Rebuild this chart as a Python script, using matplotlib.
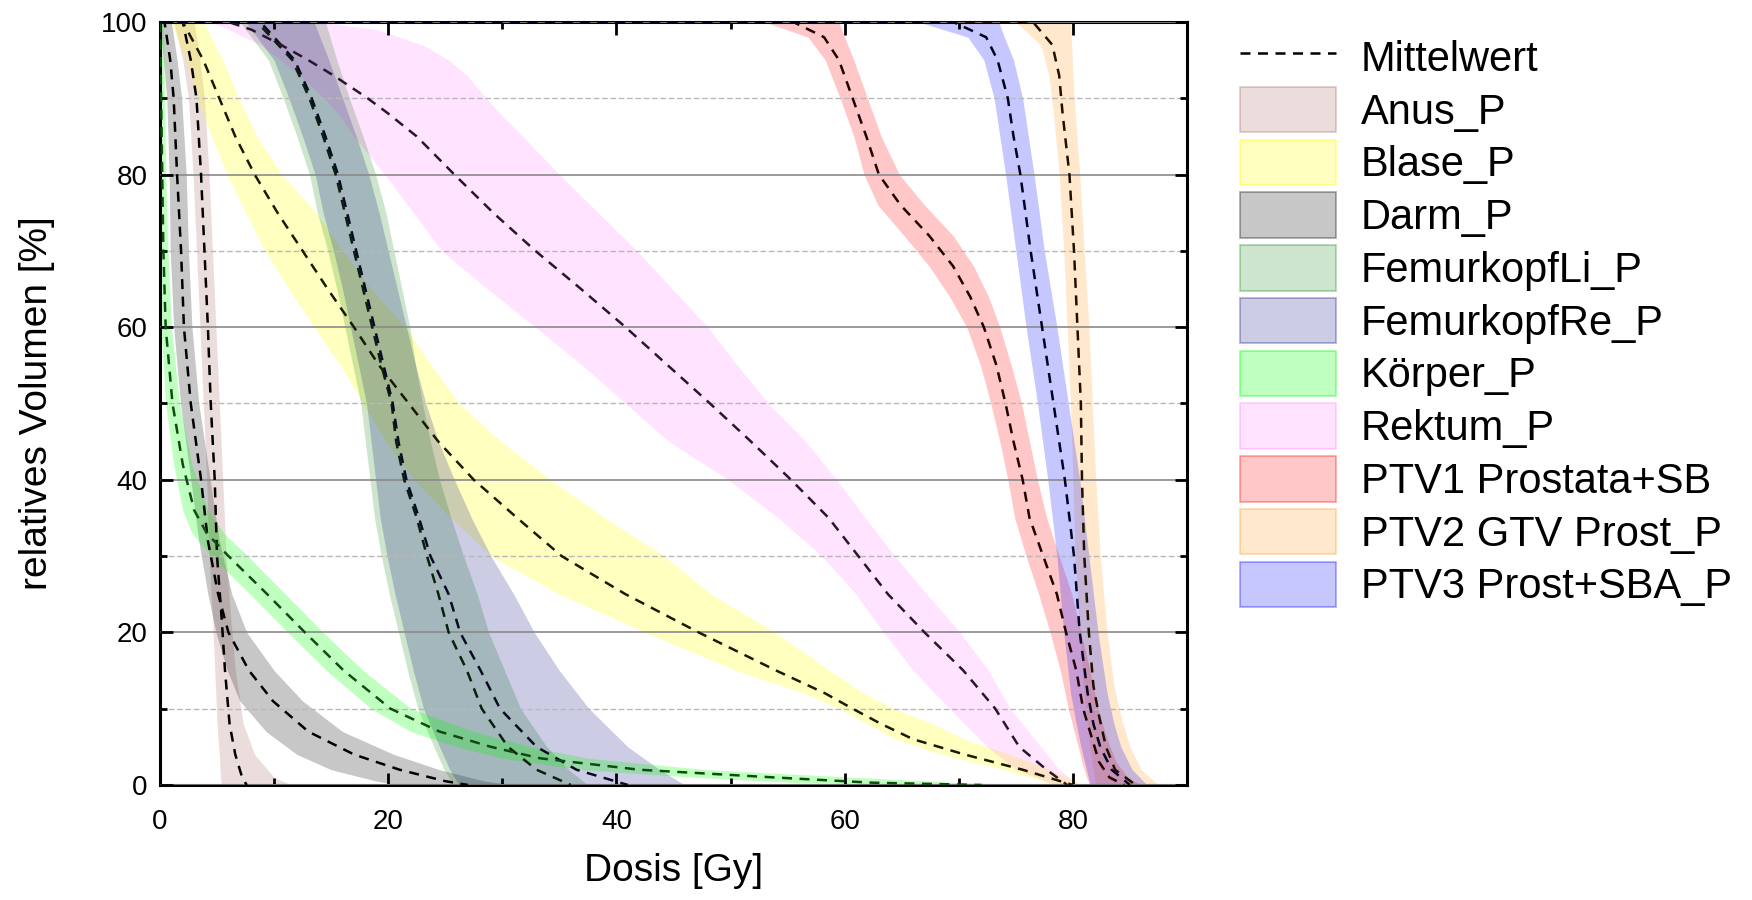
import numpy as np
import matplotlib
matplotlib.use("Agg")
import matplotlib.pyplot as plt
from matplotlib.lines import Line2D
from matplotlib.patches import Patch
from matplotlib.ticker import MultipleLocator

plt.rcParams['font.family'] = ['Liberation Sans', 'DejaVu Sans']

# volume levels [%] and dose [Gy] at that level: mean, lower edge, upper edge
anus_v = [100, 100, 95, 90, 80, 70, 60, 50, 40, 30, 22, 15, 8, 4, 1, 0]
anus_mean = [0, 2.0, 2.7, 3.2, 3.6, 3.9, 4.2, 4.45, 4.8, 5.0, 5.4, 5.7, 6.1, 6.6, 7.2, 7.6]
anus_lo = [0, 1.2, 2.0, 2.5, 2.9, 3.2, 3.5, 3.8, 4.1, 4.3, 4.6, 4.8, 5.0, 5.2, 5.3, 5.4]
anus_hi = [0, 3.0, 3.5, 3.9, 4.3, 4.6, 4.9, 5.2, 5.5, 5.8, 6.2, 6.6, 7.3, 8.3, 10.0, 11.5]

blase_v = [100, 100, 95, 90, 85, 80, 75, 70, 65, 60, 55, 50, 45, 40, 35, 30, 25, 20, 15, 12, 10, 8, 6, 4, 2, 0]
blase_mean = [0, 2.0, 3.8, 5.2, 6.6, 8.3, 10.3, 12.5, 14.7, 17.0, 19.2, 21.8, 24.4, 27.5, 31.3, 35.2, 40.8, 47.2, 54.0, 58.3, 60.7, 63.2, 66.0, 70.5, 75.6, 80.0]
blase_lo = [0, 1.0, 2.3, 3.3, 4.5, 5.9, 7.5, 9.2, 11.3, 13.5, 15.8, 17.8, 19.8, 22.3, 25.5, 29.0, 35.0, 42.5, 50.5, 56.5, 59.5, 62.0, 64.5, 68.5, 74.0, 78.5]
blase_hi = [0, 3.8, 5.5, 6.9, 8.5, 10.7, 13.7, 16.0, 18.5, 21.5, 23.8, 26.2, 29.9, 34.2, 39.0, 44.2, 48.3, 53.9, 58.7, 61.7, 64.3, 67.8, 70.5, 74.5, 78.0, 81.0]

darm_v = [100, 100, 95, 90, 80, 70, 60, 50, 40, 32, 25, 20, 15, 11, 7, 4, 2, 0.5, 0]
darm_mean = [0, 0.4, 0.9, 1.2, 1.5, 1.85, 2.1, 2.7, 3.6, 4.2, 5.1, 6.0, 7.8, 9.9, 13.0, 17.0, 21.0, 25.0, 27.0]
darm_lo = [0, 0.0, 0.3, 0.6, 0.8, 0.9, 1.2, 1.8, 2.7, 3.4, 4.2, 4.9, 5.9, 7.0, 9.3, 12.0, 15.0, 19.0, 21.0]
darm_hi = [0, 1.0, 1.5, 1.9, 2.3, 2.5, 2.8, 3.4, 4.4, 5.2, 6.3, 7.6, 10.0, 12.5, 16.0, 20.5, 24.5, 28.5, 31.0]

femur_v = [100, 100, 95, 90, 85, 80, 75, 70, 65, 60, 55, 50, 45, 40, 35, 30, 25, 20, 15, 10, 5, 2, 0]
femli_mean = [0, 8.5, 11.6, 13.1, 14.3, 15.4, 16.2, 17.0, 17.8, 18.6, 19.4, 20.3, 20.7, 21.4, 22.5, 23.4, 24.4, 25.3, 26.9, 28.2, 30.5, 33.0, 36.0]
femli_lo = [0, 7.0, 9.5, 10.8, 12.0, 13.1, 13.8, 14.7, 15.5, 16.2, 16.9, 17.6, 18.0, 18.4, 18.8, 19.4, 20.1, 20.9, 21.7, 22.6, 24.0, 24.9, 25.7]
femli_hi = [0, 14.5, 15.5, 16.6, 17.8, 18.9, 19.8, 20.5, 21.2, 21.9, 22.4, 23.0, 23.7, 24.5, 25.5, 26.6, 27.8, 28.8, 30.2, 31.6, 33.9, 35.8, 37.5]
femre_mean = [0, 8.8, 11.8, 13.3, 14.5, 15.6, 16.4, 17.2, 18.0, 18.8, 19.6, 20.4, 20.9, 21.6, 22.7, 23.7, 25.3, 26.3, 28.1, 29.8, 33.0, 36.5, 41.0]
femre_lo = [0, 7.5, 10.0, 11.3, 12.5, 13.6, 14.3, 15.2, 16.0, 16.7, 17.4, 18.1, 18.5, 18.9, 19.3, 19.9, 20.6, 21.4, 22.2, 23.1, 24.5, 25.4, 26.2]
femre_hi = [0, 13.5, 14.8, 16.0, 17.2, 18.3, 19.2, 20.0, 20.8, 21.6, 22.4, 23.3, 24.4, 25.8, 27.3, 29.0, 31.0, 32.8, 35.0, 37.6, 41.0, 43.8, 46.0]

koerper_v = [100, 90, 80, 70, 60, 50, 42, 36, 33, 30, 25, 20, 15, 10, 7, 5, 3.5, 2, 1, 0.3, 0]
koerper_mean = [0, 0.1, 0.2, 0.3, 0.5, 1.1, 2.0, 3.0, 4.1, 6.0, 9.4, 12.7, 16.1, 20.2, 24.5, 29.0, 33.3, 42.0, 53.7, 62.4, 72.0]
koerper_lo = [0, 0, 0, 0, 0.1, 0.5, 1.2, 2.0, 2.8, 4.5, 7.9, 11.2, 14.6, 18.5, 22.0, 26.0, 30.0, 37.0, 47.0, 56.0, 66.0]
koerper_hi = [0.3, 0.4, 0.5, 0.7, 1.0, 1.7, 2.8, 4.2, 5.6, 7.7, 11.0, 14.3, 17.8, 22.0, 27.5, 32.5, 37.5, 48.0, 61.0, 70.0, 78.0]

rektum_v = [100, 100, 99, 97, 95, 93, 90, 88, 85, 80, 75, 70, 65, 60, 55, 50, 45, 40, 35, 30, 25, 20, 15, 10, 5, 2, 0]
rektum_mean = [0, 6.0, 8.0, 10.6, 13.0, 15.2, 18.2, 20.0, 22.5, 25.8, 29.2, 32.9, 36.9, 40.8, 44.5, 48.2, 51.8, 55.3, 58.6, 61.2, 63.8, 67.0, 70.4, 73.2, 75.3, 77.7, 79.5]
rektum_lo = [0, 4.5, 6.0, 8.8, 10.6, 12.2, 14.4, 15.6, 17.0, 19.7, 22.2, 24.7, 28.7, 32.9, 37.0, 40.8, 44.6, 49.8, 54.2, 58.0, 61.0, 63.4, 66.0, 69.2, 72.5, 75.0, 78.5]
rektum_hi = [0, 14.0, 19.0, 23.0, 25.3, 26.9, 28.6, 29.8, 31.8, 35.0, 38.4, 41.8, 44.9, 48.0, 50.6, 53.3, 56.6, 59.3, 61.8, 64.4, 67.2, 70.1, 72.6, 74.5, 77.2, 78.8, 80.5]

ptv1_v = [100, 100, 98, 95, 90, 85, 80, 76, 72, 68, 64, 60, 55, 50, 45, 40, 35, 30, 25, 20, 15, 10, 6, 3, 1, 0]
ptv1_mean = [0, 55.5, 58.2, 59.5, 60.7, 61.9, 63.0, 64.9, 67.4, 69.5, 71.0, 72.2, 73.3, 74.1, 74.8, 75.6, 76.2, 77.4, 78.6, 79.4, 80.3, 80.9, 81.7, 82.3, 83.2, 84.5]
ptv1_lo = [0, 53.0, 56.8, 58.3, 59.6, 60.8, 61.7, 62.9, 65.2, 67.4, 69.2, 70.7, 71.9, 72.8, 73.6, 74.3, 74.9, 75.9, 77.0, 78.0, 78.9, 79.6, 80.3, 80.8, 81.2, 81.5]
ptv1_hi = [0, 59.5, 60.0, 60.8, 62.0, 63.2, 64.8, 67.0, 69.5, 71.3, 72.6, 73.6, 74.6, 75.5, 76.2, 76.9, 77.7, 78.8, 79.9, 80.7, 81.5, 82.2, 83.0, 83.8, 84.8, 86.0]

ptv2_v = [100, 100, 97, 93, 88, 80, 70, 60, 50, 40, 30, 20, 13, 9, 5, 2, 0]
ptv2_mean = [0, 76.5, 78.2, 78.8, 79.1, 79.7, 80.1, 80.4, 80.7, 80.8, 81.0, 81.4, 81.8, 82.3, 82.9, 83.7, 85.5]
ptv2_lo = [0, 75.0, 77.2, 77.9, 78.3, 78.8, 79.2, 79.5, 79.8, 80.0, 80.2, 80.6, 80.9, 81.2, 81.5, 81.8, 82.0]
ptv2_hi = [0, 79.8, 79.9, 80.0, 80.2, 80.6, 81.0, 81.4, 81.7, 82.0, 82.4, 83.0, 83.6, 84.2, 85.0, 86.0, 87.5]

ptv3_v = [100, 100, 98, 95, 90, 85, 80, 70, 60, 50, 40, 30, 20, 12, 8, 5, 2, 0]
ptv3_mean = [0, 69.5, 72.4, 73.4, 74.3, 74.8, 75.4, 76.3, 77.3, 78.3, 79.3, 80.1, 80.6, 81.3, 81.8, 82.4, 83.4, 85.0]
ptv3_lo = [0, 66.5, 70.8, 72.2, 73.1, 73.6, 74.1, 75.0, 75.9, 76.9, 77.8, 78.6, 79.2, 79.8, 80.3, 80.7, 81.2, 81.5]
ptv3_hi = [0, 73.5, 74.0, 74.8, 75.6, 76.1, 76.6, 77.5, 78.6, 79.6, 80.6, 81.4, 82.2, 83.0, 83.6, 84.2, 85.2, 86.5]

# name, volumes, lower, upper, band colour, band alpha
bands = [
    ("Anus_P", anus_v, anus_lo, anus_hi, (0.63, 0.35, 0.35), 0.2),
    ("Blase_P", blase_v, blase_lo, blase_hi, (1.0, 1.0, 0.0), 0.25),
    ("Darm_P", darm_v, darm_lo, darm_hi, (0.0, 0.0, 0.0), 0.22),
    ("FemurkopfLi_P", femur_v, femli_lo, femli_hi, (0.0, 0.5, 0.0), 0.2),
    ("FemurkopfRe_P", femur_v, femre_lo, femre_hi, (0.0, 0.0, 0.5), 0.2),
    ("Körper_P", koerper_v, koerper_lo, koerper_hi, (0.0, 1.0, 0.0), 0.25),
    ("Rektum_P", rektum_v, rektum_lo, rektum_hi, (1.0, 0.0, 1.0), 0.11),
    ("PTV1 Prostata+SB", ptv1_v, ptv1_lo, ptv1_hi, (1.0, 0.0, 0.0), 0.22),
    ("PTV2 GTV Prost_P", ptv2_v, ptv2_lo, ptv2_hi, (1.0, 0.55, 0.0), 0.2),
    ("PTV3 Prost+SBA_P", ptv3_v, ptv3_lo, ptv3_hi, (0.0, 0.0, 1.0), 0.22),
]

means = [
    (anus_v, anus_mean, "black"),
    (blase_v, blase_mean, "#1a1a00"),
    (darm_v, darm_mean, "black"),
    (femur_v, femli_mean, "#0a200a"),
    (femur_v, femre_mean, "#0a0a25"),
    (koerper_v, koerper_mean, "#0d4d0d"),
    (rektum_v, rektum_mean, "#2a1530"),
    (ptv1_v, ptv1_mean, "#200000"),
    (ptv2_v, ptv2_mean, "#201000"),
    (ptv3_v, ptv3_mean, "#000020"),
]

fig = plt.figure(figsize=(17.52, 9.0), dpi=100)
ax = fig.add_axes([0.0913, 0.1278, 0.5862, 0.8478])

handles = [Line2D([], [], color="black", lw=1.8, ls=(0, (4, 3)), label="Mittelwert")]
for name, v, lo, hi, col, a in bands:
    ax.fill_betweenx(v, lo, hi, color=col, alpha=a, lw=0, zorder=1)
    handles.append(Patch(facecolor=col + (a,), edgecolor=col + (min(1, a * 1.6),),
                         lw=1.2, label=name))

for v, m, c in means:
    ax.plot(m, v, color=c, lw=1.8, ls=(0, (4, 3)), zorder=3)

ax.set_xlim(0, 90)
ax.set_ylim(0, 100)
ax.xaxis.set_major_locator(MultipleLocator(20))
ax.xaxis.set_minor_locator(MultipleLocator(10))
ax.yaxis.set_major_locator(MultipleLocator(20))
ax.yaxis.set_minor_locator(MultipleLocator(10))

ax.set_axisbelow(False)
ax.yaxis.grid(True, which="major", color="#8a8a8a", lw=1.2, ls="-")
ax.yaxis.grid(True, which="minor", color="#b8b8b8", lw=1.0, ls=(0, (4, 2)))

ax.tick_params(which="both", direction="in", top=True, right=True, width=2, labelsize=20)
ax.tick_params(axis="y", which="both", pad=9)
ax.tick_params(axis="x", which="both", pad=17)
ax.tick_params(which="major", length=9)
ax.tick_params(which="minor", length=5)
for s in ax.spines.values():
    s.set_linewidth(2.2)

ax.set_xlabel("Dosis [Gy]", fontsize=28, labelpad=13)
ax.set_ylabel("relatives Volumen [%]", fontsize=28, labelpad=33)

fig.legend(handles=handles, loc="upper left", bbox_to_anchor=(0.7078, 0.962),
           frameon=False, fontsize=30, borderpad=0, borderaxespad=0,
           handlelength=2.3, handleheight=1.3, handletextpad=0.6, labelspacing=0.17)

fig.savefig("out.png", dpi=100)
